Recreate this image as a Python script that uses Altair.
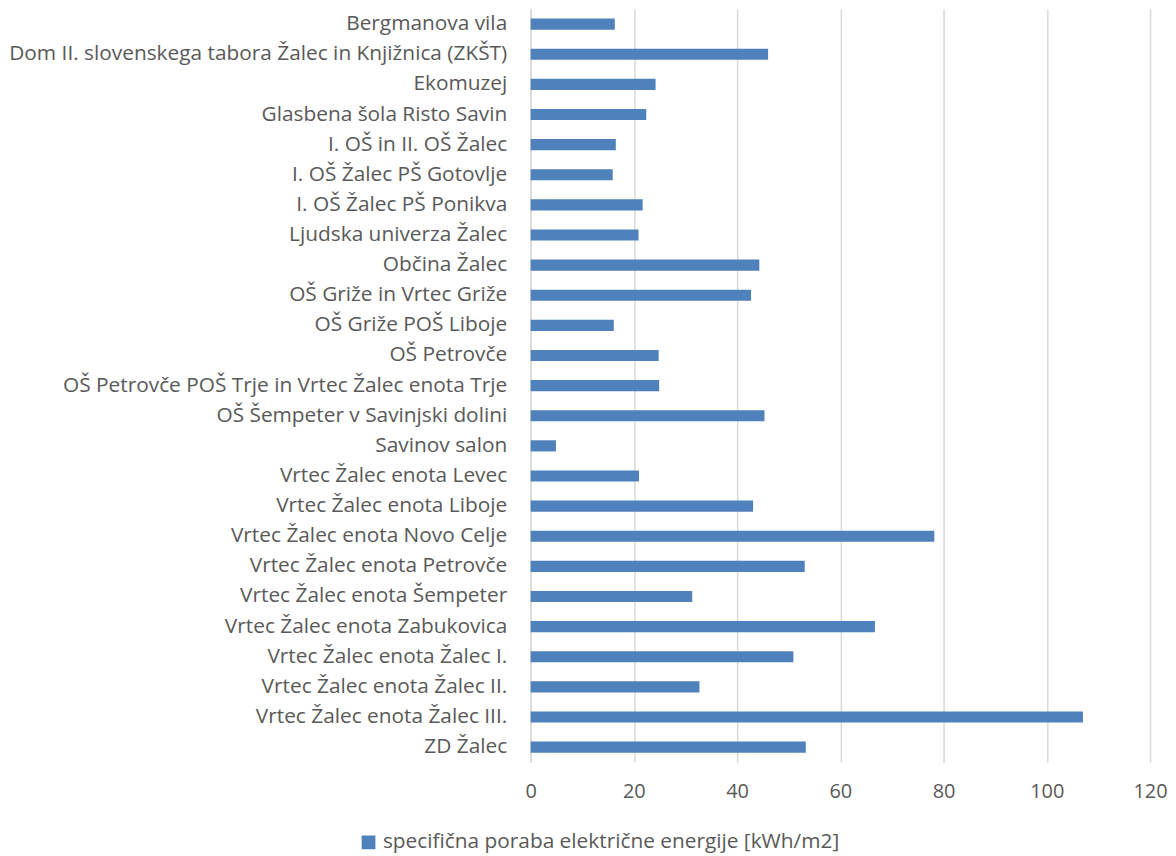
import altair as alt
import pandas as pd

categories = [
    "Bergmanova vila",
    "Dom II. slovenskega tabora Žalec in Knjižnica (ZKŠT)",
    "Ekomuzej",
    "Glasbena šola Risto Savin",
    "I. OŠ in II. OŠ Žalec",
    "I. OŠ Žalec PŠ Gotovlje",
    "I. OŠ Žalec PŠ Ponikva",
    "Ljudska univerza Žalec",
    "Občina Žalec",
    "OŠ Griže in Vrtec Griže",
    "OŠ Griže POŠ Liboje",
    "OŠ Petrovče",
    "OŠ Petrovče POŠ Trje in Vrtec Žalec enota Trje",
    "OŠ Šempeter v Savinjski dolini",
    "Savinov salon",
    "Vrtec Žalec enota Levec",
    "Vrtec Žalec enota Liboje",
    "Vrtec Žalec enota Novo Celje",
    "Vrtec Žalec enota Petrovče",
    "Vrtec Žalec enota Šempeter",
    "Vrtec Žalec enota Zabukovica",
    "Vrtec Žalec enota Žalec I.",
    "Vrtec Žalec enota Žalec II.",
    "Vrtec Žalec enota Žalec III.",
    "ZD Žalec",
]
values = [16.3, 46.0, 24.2, 22.4, 16.5, 15.9, 21.7, 20.9, 44.3, 42.7, 16.1, 24.8,
          24.9, 45.3, 4.9, 21.0, 43.1, 78.2, 53.1, 31.3, 66.7, 50.9, 32.7, 107.0, 53.3]
series_name = "specifična poraba električne energije [kWh/m2]"
x_ticks = [0, 20, 40, 60, 80, 100, 120]

df = pd.DataFrame({"objekt": categories, "vrednost": values, "serija": [series_name] * len(values)})

FONT = "Open Sans"
GREY = "#595959"
FS = 20.9

chart = alt.Chart(df).mark_bar(color="#4F81BD").encode(
    y=alt.Y("objekt:N", sort=categories, title=None,
            scale=alt.Scale(paddingInner=0.63, paddingOuter=0.315),
            axis=alt.Axis(labelFont=FONT, labelFontSize=FS, labelColor=GREY, ticks=False,
                          domain=True, domainColor="#d9d9d9", domainWidth=1.5,
                          labelPadding=24, labelLimit=700)),
    x=alt.X("vrednost:Q", title=None,
            scale=alt.Scale(domain=[0, 120], nice=False),
            axis=alt.Axis(values=x_ticks, labelFont=FONT, labelFontSize=20, labelColor=GREY,
                          ticks=False, domain=False, grid=True, gridColor="#d9d9d9",
                          gridWidth=1.5, labelPadding=19, labelFlush=False)),
    color=alt.Color("serija:N", scale=alt.Scale(range=["#4F81BD"]),
                    legend=alt.Legend(title=None, orient="none", legendX=-175, legendY=823,
                                      labelFont=FONT, labelFontSize=FS, labelColor=GREY,
                                      symbolType="square", symbolSize=190, symbolStrokeWidth=0,
                                      labelOffset=4, labelLimit=700, padding=2)),
).properties(
    width=621, height=755,
    padding={"left": 0, "top": 0, "right": 0, "bottom": 0},
).configure_view(stroke=None).configure_axis(gridOpacity=1)

chart.save("out.html", embed_options={"renderer": "svg", "actions": False})
